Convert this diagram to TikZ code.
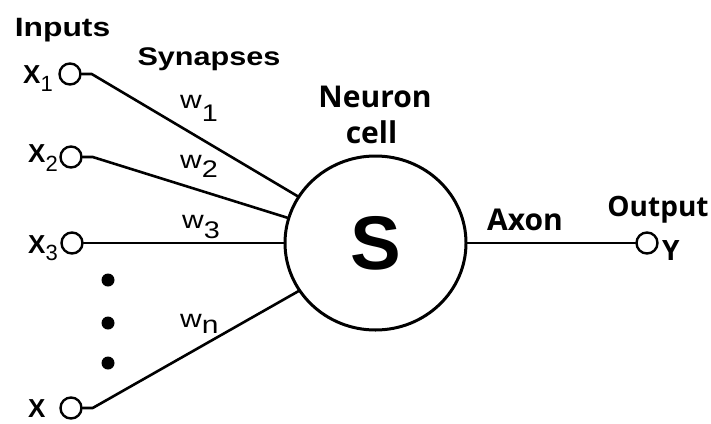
\documentclass[tikz,border=0pt]{standalone}
\usepackage{fontspec}
\setmainfont{Liberation Sans}
\newfontfamily\widesans[FakeStretch=1.2]{Liberation Sans}
\newfontfamily\roundsans{Open Sans}
\usetikzlibrary{shapes.geometric}
\newcommand{\fs}[1]{\fontsize{#1}{#1}\selectfont}
\begin{document}
\begin{tikzpicture}[x=1pt,y=-1pt,
  wire/.style={line width=2.6pt, line join=round, line cap=round},
  port/.style={circle, draw, line width=2.4pt, minimum size=21pt, inner sep=0pt, fill=white},
  cell/.style={ellipse, draw, line width=3pt, minimum width=181pt, minimum height=174pt, inner sep=0pt},
  head/.style={inner sep=0pt, anchor=base},
  inlabel/.style={inner sep=0pt, anchor=base west, font=\bfseries\fs{26}},
  weight/.style={inner sep=0pt, anchor=base west, font=\widesans\fs{25}},
  dot/.style={circle, fill, inner sep=0pt, minimum size=13pt}]
\useasboundingbox (0,0) rectangle (711,423);

% neuron body
\node[cell] (S) at (375.5,243) {\bfseries\fs{76}S};

% input ports
\node[port] (in1) at (70,74) {};
\node[port] (in2) at (71,157) {};
\node[port] (in3) at (72,243) {};
\node[port] (inn) at (71,408) {};
% output port
\node[port] (out) at (647,243) {};

% synapses
\draw[wire] (in1.east) -- ++(10,0) -- (S.149);
\draw[wire] (in2.east) -- ++(10,0) -- (S.164);
\draw[wire] (in3.east) -- (S.180);
\draw[wire] (inn.east) -- ++(10,0) -- (S.212);
% axon
\draw[wire] (S.east) -- (out.west);

% ellipsis between inputs
\node[dot] (d1) at (108,280) {};
\node[dot] (d2) at (108,323) {};
\node[dot] (d3) at (108,363) {};

% input labels
\node[inlabel] (x1) at (23,83) {X\raisebox{-8pt}{\mdseries\fs{22}1}};
\node[inlabel] (x2) at (28,162) {X\raisebox{-9pt}{\mdseries\fs{22}2}};
\node[inlabel] (x3) at (28,253) {X\raisebox{-7pt}{\mdseries\fs{22}3}};
\node[inlabel] (xn) at (28,417) {X};
\node[inlabel, font=\roundsans\bfseries\fs{28}] (y) at (662,260) {Y};

% weights
\node[weight] (w1) at (180,108) {w\raisebox{-13pt}{\fs{24}1}};
\node[weight] (w2) at (180,168) {w\raisebox{-9pt}{\fs{24}2}};
\node[weight] (w3) at (182,228) {w\raisebox{-10pt}{\fs{24}3}};
\node[weight] (wn) at (180,327) {w\raisebox{-6pt}{n}};

% headings
\node[head, font=\widesans\bfseries\fs{26.5}] (inputs) at (62.5,36) {Inputs};
\node[head, font=\widesans\bfseries\fs{25.5}] (syn) at (209,65) {Synapses};
\node[head, font=\roundsans\bfseries\fs{30}] (neuron) at (375,107) {Neuron};
\node[head, font=\roundsans\bfseries\fs{30}] (celltxt) at (371.5,143) {cell};
\node[head, font=\roundsans\bfseries\fs{30}] (axon) at (525,230) {Axon};
\node[head, font=\roundsans\bfseries\fs{28}] (output) at (658,216) {Output};
\end{tikzpicture}
\end{document}
